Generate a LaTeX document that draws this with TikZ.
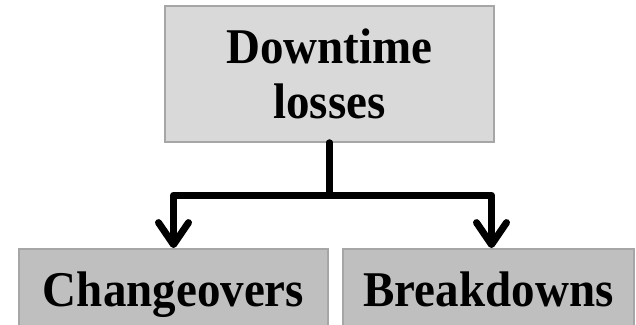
\documentclass[tikz,border=0pt]{standalone}
\usepackage{fontspec}
\setmainfont{Liberation Serif}[FakeStretch=0.94]
\usetikzlibrary{arrows.meta}
\definecolor{topfill}{HTML}{D9D9D9}
\definecolor{botfill}{HTML}{BFBFBF}
\definecolor{edgegray}{HTML}{A6A6A6}
\tikzset{
  boxstyle/.style={draw=edgegray, line width=1.8pt, inner sep=0pt, align=center,
    font=\bfseries\fontsize{50}{55}\selectfont},
  conn/.style={line width=7pt, line join=round, line cap=round,
    -{Straight Barb[length=22pt, width=30pt, round]}}
}
\begin{document}
\begin{tikzpicture}[x=1pt,y=-1pt]
\useasboundingbox (0,0) rectangle (636,324);
\node[boxstyle, fill=topfill, minimum width=329pt, minimum height=136pt] (top) at (329.5,74) {Downtime\\losses};
\node[boxstyle, fill=botfill, minimum width=309pt, minimum height=78pt, text height=36pt, text depth=0pt] (left) at (173.5,288) {Changeovers};
\node[boxstyle, fill=botfill, minimum width=291pt, minimum height=78pt, text height=36pt, text depth=0pt] (right) at (488.5,288) {Breakdowns};
\coordinate (j) at (329.5,195);
\draw[conn] (top.south) -- (j) -| (left.north);
\draw[conn] (top.south) -- (j) -| ([xshift=3pt]right.north);
\end{tikzpicture}
\end{document}
